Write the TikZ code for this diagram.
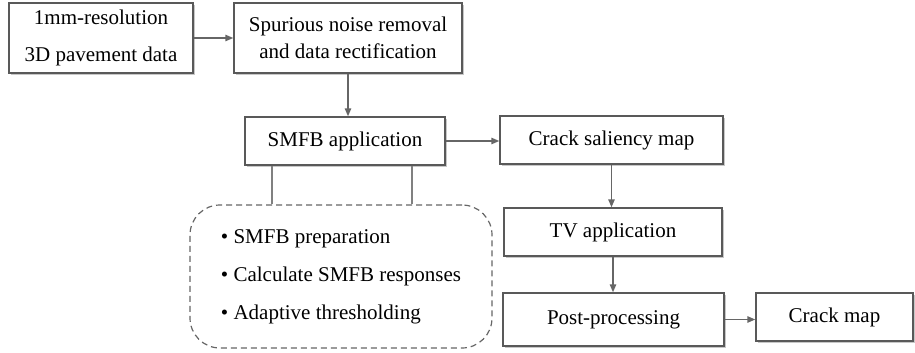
\documentclass[tikz,border=0pt]{standalone}
\usepackage{fontspec}
\setmainfont{Liberation Serif}
\usetikzlibrary{arrows.meta, shadows, calc}

\begin{document}
\begin{tikzpicture}[
    x=0.5pt, y=-0.5pt,
    box/.style={rectangle, draw=black!65, line width=0.7pt, fill=white, align=center, inner sep=2pt, font=\fontsize{10.5}{12.6}\selectfont, drop shadow={shadow xshift=0.8pt, shadow yshift=-0.8pt, fill=black!22, opacity=1}},
    steplist/.style={rectangle, draw=black!60, line width=0.6pt, dash pattern=on 3pt off 2pt, rounded corners=15pt, align=left, font=\fontsize{10.5}{19}\selectfont},
    arrow/.style={draw=black!60, line width=0.75pt, -{Triangle[length=4pt, width=3.2pt]}},
    link/.style={draw=black!50, line width=0.75pt}
]
\useasboundingbox (0,0) rectangle (915,353);
% Nodes
\node [box, minimum width=92pt, minimum height=35pt] (rawdata) at (101,38) {1mm-resolution\\[6pt]3D pavement data};
\node [box, minimum width=114pt, minimum height=35pt] (denoise) at (348,38) {Spurious noise removal\\[1.2pt]and data rectification};
\node [box, minimum width=100pt, minimum height=24pt] (smfb) at (345,141) {SMFB application};
\node [box, minimum width=111.5pt, minimum height=24pt] (saliency) at (611.5,140) {Crack saliency map};
\node [box, minimum width=109pt, minimum height=24pt] (tv) at (613,232) {TV application};
\node [box, minimum width=110.5pt, minimum height=26.5pt] (post) at (613.5,319.5) {Post-processing};
\node [box, minimum width=78.5pt, minimum height=24pt] (crackmap) at (834.5,317) {Crack map};
\node [steplist, minimum width=151pt, minimum height=71.5pt] (steps) at (341,276.5) {\textbullet\ SMFB preparation\\\textbullet\ Calculate SMFB responses\\\textbullet\ Adaptive thresholding};

% Connections
\draw [arrow] (rawdata) -- (denoise);
\draw [arrow] (denoise.south) -- (denoise.south |- smfb.north);
\draw [arrow] (smfb.east) -- (smfb.east -| saliency.west);
\draw [arrow] (saliency.south) -- (saliency.south |- tv.north);
\draw [arrow] (tv.south) -- (tv.south |- post.north);
\draw [arrow] (post.east) -- (post.east -| crackmap.west);
\draw [link] ([xshift=-36.5pt]smfb.south) -- ([xshift=-36.5pt]smfb.south |- steps.north);
\draw [link] ([xshift=33.5pt]smfb.south) -- ([xshift=33.5pt]smfb.south |- steps.north);
\end{tikzpicture}
\end{document}
